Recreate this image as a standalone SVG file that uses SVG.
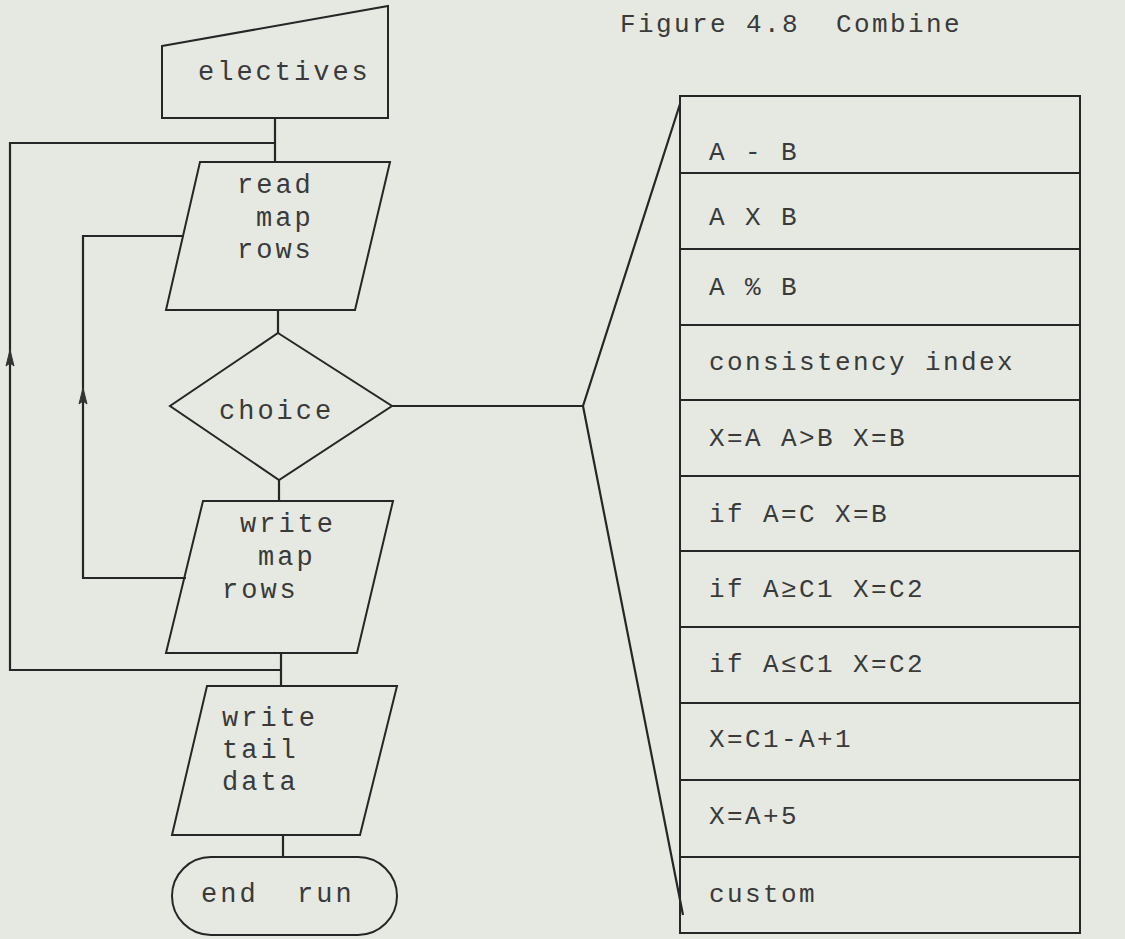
<svg xmlns="http://www.w3.org/2000/svg" width="1125" height="939" viewBox="0 0 1125 939">
<style>
.bg{fill:#e5e9e2}
.shape{fill:none;stroke:#262626;stroke-width:2;stroke-linejoin:miter}
.line{fill:none;stroke:#262626;stroke-width:2.2}
.t{font-family:"Liberation Mono","Courier New",monospace;font-size:27px;letter-spacing:3px;fill:#3a3a3a;white-space:pre}
.r{font-family:"Liberation Mono","Courier New",monospace;font-size:26px;letter-spacing:2.4px;fill:#3a3a3a;white-space:pre}
.arr{fill:#333;stroke:#333;stroke-width:1}
</style>
<defs>
<path id="arrowUp" d="M0,0 L-4,16 L0,13 L4,16 Z"/>
</defs>
<rect class="bg" x="0" y="0" width="1125" height="939"/>
<text id="title" class="r" x="620" y="32" xml:space="preserve">Figure 4.8  Combine</text>
<g id="connectors">
<path class="line" d="M275,118 V162"/>
<path class="line" d="M275,143 H10 V670 H281"/>
<path class="line" d="M183,236 H83 V578 H186"/>
<path class="line" d="M278,310 V333"/>
<path class="line" d="M279,480 V501"/>
<path class="line" d="M281,653 V686"/>
<path class="line" d="M283,835 V857"/>
<path class="line" d="M392,406 H583 L680,104 M583,406 L683,915"/>
<use class="arr" href="#arrowUp" x="10" y="350"/>
<use class="arr" href="#arrowUp" x="83" y="388"/>
</g>
<g id="electives">
<path class="shape" d="M162,46 L388,6 V118 H162 Z"/>
<text class="t" x="198" y="80">electives</text>
</g>
<g id="read-map-rows">
<path class="shape" d="M200,162 H390 L355,310 H166 Z"/>
<text class="t" x="237" y="193">read</text>
<text class="t" x="256" y="226">map</text>
<text class="t" x="237" y="258">rows</text>
</g>
<g id="choice">
<path class="shape" d="M278,333 L392,406 L279,480 L170,406 Z"/>
<text class="t" x="219" y="419">choice</text>
</g>
<g id="write-map-rows">
<path class="shape" d="M203,501 H393 L357,653 H166 Z"/>
<text class="t" x="240" y="532">write</text>
<text class="t" x="258" y="565">map</text>
<text class="t" x="222" y="598">rows</text>
</g>
<g id="write-tail-data">
<path class="shape" d="M207,686 H397 L360,835 H172 Z"/>
<text class="t" x="222" y="726">write</text>
<text class="t" x="222" y="758">tail</text>
<text class="t" x="222" y="790">data</text>
</g>
<g id="end-run">
<rect class="shape" x="172" y="857" width="225" height="78" rx="39" ry="39"/>
<text class="t" x="201" y="902" xml:space="preserve">end  run</text>
</g>
<g id="combine-table">
<rect class="shape" x="680" y="96" width="400" height="837"/>
<path class="shape" d="M680,173 H1080 M680,249 H1080 M680,325 H1080 M680,400 H1080 M680,476 H1080 M680,551 H1080 M680,627 H1080 M680,703 H1080 M680,780 H1080 M680,857 H1080"/>
<text class="r" x="709" y="160">A - B</text>
<text class="r" x="709" y="225">A X B</text>
<text class="r" x="709" y="295">A % B</text>
<text class="r" x="709" y="370">consistency index</text>
<text class="r" x="709" y="446">X=A A&gt;B X=B</text>
<text class="r" x="709" y="522">if A=C X=B</text>
<text class="r" x="709" y="597">if A≥C1 X=C2</text>
<text class="r" x="709" y="672">if A≤C1 X=C2</text>
<text class="r" x="709" y="747">X=C1-A+1</text>
<text class="r" x="709" y="824">X=A+5</text>
<text class="r" x="709" y="902">custom</text>
</g>
</svg>
